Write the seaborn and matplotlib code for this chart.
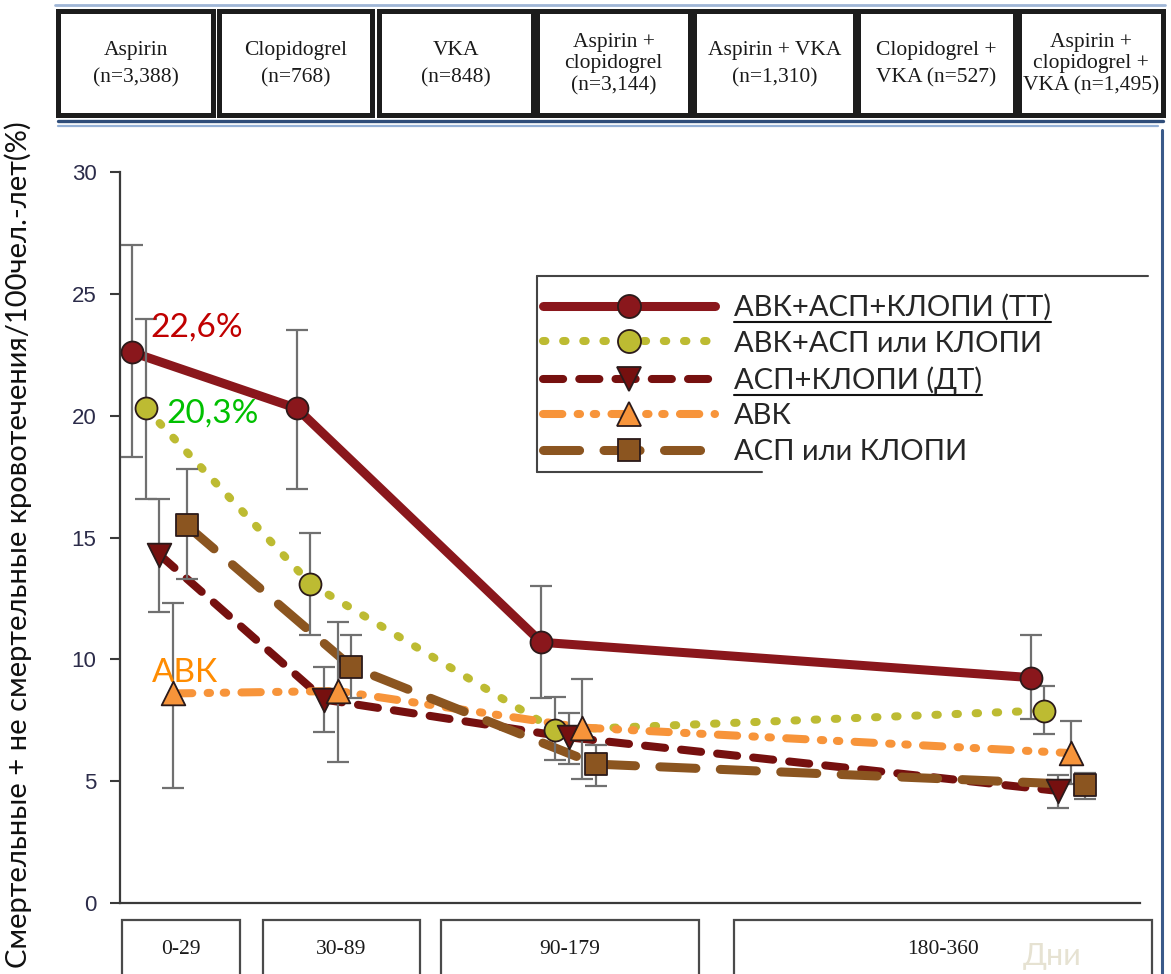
import matplotlib
matplotlib.use('Agg')
import numpy as np
import pandas as pd
import matplotlib.pyplot as plt
from matplotlib.lines import Line2D
from matplotlib.patches import Rectangle
import seaborn as sns

W, H = 1171, 974

# --- values ---
periods = ['0-29', '30-89', '90-179', '180-360']
period_pos = [13.9, 72.0, 158.3, 331.0]   # position of each period on the day axis
dodge_step = 4.8

groups = ['АВК+АСП+КЛОПИ (ТТ)', 'АВК+АСП или КЛОПИ', 'АСП+КЛОПИ (ДТ)',
          'АВК', 'АСП или КЛОПИ']

tt_rate = [22.6, 20.3, 10.7, 9.25]
tt_lo = [18.3, 17.0, 8.4, 7.55]
tt_hi = [27.0, 23.5, 13.0, 11.0]

avk_or_rate = [20.3, 13.1, 7.1, 7.9]
avk_or_lo = [16.6, 11.0, 5.85, 6.95]
avk_or_hi = [23.95, 15.2, 8.45, 8.9]

dt_rate = [14.3, 8.35, 6.8, 4.6]
dt_lo = [11.95, 7.0, 5.7, 3.9]
dt_hi = [16.6, 9.7, 7.8, 5.25]

avk_rate = [8.6, 8.7, 7.2, 6.15]
avk_lo = [4.7, 5.8, 5.1, 4.9]
avk_hi = [12.3, 11.55, 9.2, 7.45]

mono_rate = [15.5, 9.7, 5.7, 4.85]
mono_lo = [13.3, 8.4, 4.8, 4.25]
mono_hi = [17.8, 11.0, 6.5, 5.35]

header_labels = ['Aspirin\n(n=3,388)', 'Clopidogrel\n(n=768)', 'VKA\n(n=848)',
                 'Aspirin +\nclopidogrel\n(n=3,144)', 'Aspirin + VKA\n(n=1,310)',
                 'Clopidogrel +\nVKA (n=527)', 'Aspirin +\nclopidogrel +\nVKA (n=1,495)']

y_ticks = [0, 5, 10, 15, 20, 25, 30]

rates = [tt_rate, avk_or_rate, dt_rate, avk_rate, mono_rate]
lows = [tt_lo, avk_or_lo, dt_lo, avk_lo, mono_lo]
highs = [tt_hi, avk_or_hi, dt_hi, avk_hi, mono_hi]

rows = []
for gi, g in enumerate(groups):
    for pi, p in enumerate(periods):
        rows.append({'group': g, 'period': p,
                     'pos': period_pos[pi] + (gi - 2) * dodge_step,
                     'rate': rates[gi][pi], 'lo': lows[gi][pi], 'hi': highs[gi][pi]})
df = pd.DataFrame(rows)

styles = {
    groups[0]: dict(color='#8a171c', lw=6.5, ls='-', marker='o', s=250),
    groups[1]: dict(color='#bdbb32', lw=5.8, ls=(0, (0.3, 2.2)), marker='o', s=250),
    groups[2]: dict(color='#76100f', lw=5.8, ls=(0, (2.5, 2.0)), marker='v', s=290),
    groups[3]: dict(color='#f7943a', lw=5.8, ls=(0, (2.4, 1.9, 0.3, 1.7, 0.3, 1.9)), marker='^', s=290),
    groups[4]: dict(color='#8b5520', lw=6.5, ls=(0, (4.0, 2.7)), marker='s', s=240),
}


def fxy(x, y):
    """pixel position -> figure fraction"""
    return x / W, 1 - y / H


sns.set_style('ticks')
plt.rcParams['font.family'] = ['Lato', 'Noto Sans', 'DejaVu Sans']

fig = plt.figure(figsize=(W / 100, H / 100), dpi=100)
ax = fig.add_axes([120 / W, 1 - 903 / H, (1140 - 120) / W, (903 - 172) / H])

for g in groups:
    st = styles[g]
    sub = df[df['group'] == g]
    sns.lineplot(data=sub, x='pos', y='rate', color=st['color'], linewidth=st['lw'],
                 sort=False, errorbar=None, legend=False, ax=ax, zorder=2)
    line = ax.lines[-1]
    line.set_linestyle(st['ls'])
    line.set_dash_capstyle('round')
    line.set_solid_capstyle('round')

for g in groups:
    sub = df[df['group'] == g]
    ax.errorbar(sub['pos'], sub['rate'], yerr=[sub['rate'] - sub['lo'], sub['hi'] - sub['rate']],
                fmt='none', ecolor='#707070', elinewidth=1.6, capsize=8, capthick=1.6, zorder=3)

for g in groups:
    st = styles[g]
    sub = df[df['group'] == g]
    sns.scatterplot(data=sub, x='pos', y='rate', marker=st['marker'], s=st['s'],
                    color=st['color'], edgecolor='#2b1a1a', linewidth=1.3,
                    legend=False, ax=ax, zorder=4)

ax.set_xlim(0, 360)
ax.set_ylim(0, 30)
ax.set_yticks(y_ticks)
ax.set_xticks([])
ax.set_xlabel('')
ax.set_ylabel('')
sns.despine(ax=ax)
for sp in ['left', 'bottom']:
    ax.spines[sp].set_linewidth(1.6)
    ax.spines[sp].set_color('#3a3a3a')
ax.tick_params(axis='y', length=7, width=1.5, color='#3a3a3a', pad=10,
               labelsize=16, labelcolor='#2c2c4a')
for lab in ax.get_yticklabels():
    lab.set_family(['Liberation Sans', 'DejaVu Sans'])

# value callouts
tt0 = df[(df['group'] == groups[0]) & (df['period'] == periods[0])].iloc[0]
yo0 = df[(df['group'] == groups[1]) & (df['period'] == periods[0])].iloc[0]
av0 = df[(df['group'] == groups[3]) & (df['period'] == periods[0])].iloc[0]
ax.annotate('22,6%', (tt0['pos'], tt0['rate']), xytext=(13, 18), textcoords='offset points',
            color='#c00000', fontsize=24, va='center', ha='left')
ax.annotate('20,3%', (yo0['pos'], yo0['rate']), xytext=(15, -4), textcoords='offset points',
            color='#00c000', fontsize=24, va='center', ha='left')
ax.annotate('АВК', (av0['pos'], av0['rate']), xytext=(-15, 15), textcoords='offset points',
            color='#ff8c00', fontsize=24, va='center', ha='left')

# legend
handles = []
for g in groups:
    st = styles[g]
    handles.append(Line2D([], [], color=st['color'], lw=st['lw'], linestyle=st['ls'],
                          dash_capstyle='round', solid_capstyle='round',
                          marker=st['marker'], markersize=np.sqrt(st['s']) * 1.05,
                          markerfacecolor=st['color'], markeredgecolor='#2b1a1a',
                          markeredgewidth=1.3))
leg = fig.legend(handles, groups, loc='upper left', bbox_to_anchor=fxy(543, 294),
                 frameon=False, fontsize=21, handlelength=5.9, handletextpad=0.65,
                 labelspacing=0.33, borderpad=0, borderaxespad=0)

# legend box edges as they show in the picture
for (x0, y0), (x1, y1) in [((537, 276), (1148, 276)), ((537, 276), (537, 472)),
                           ((537, 472), (762, 472))]:
    a, b = fxy(x0, y0)
    c, d = fxy(x1, y1)
    fig.add_artist(Line2D([a, c], [b, d], color='#444444', lw=1.5))

# y label
fig.text(*fxy(18, 545), 'Смертельные + не смертельные кровотечения/100чел.-лет(%)',
         rotation=90, ha='center', va='center', fontsize=21, color='#111111')

# header boxes with group sizes
header_x = [(58, 213), (219, 372), (379, 533), (537, 690), (694, 855), (858, 1015), (1019, 1163)]
for (x0, x1), lab in zip(header_x, header_labels):
    bx, by = fxy(x0, 115)
    fig.add_artist(Rectangle((bx, by), (x1 - x0) / W, (115 - 11) / H, transform=fig.transFigure,
                             facecolor='white', edgecolor='#1c1c1c', lw=3.6))
    nl = lab.count('\n') + 1
    fig.text(*fxy((x0 + x1) / 2, 64), lab, ha='center', va='center', fontsize=15.5,
             family=['Liberation Serif', 'DejaVu Serif'],
             linespacing=1.6 if nl == 2 else 1.2, color='#1a1a1a')

# decorative frame lines of the pasted image
for (x0, y0), (x1, y1), col, lw in [((55, 5), (1165, 5), '#9fb6d6', 2.0),
                                    ((58, 121), (1163, 121), '#2f4d7a', 2.4),
                                    ((58, 126), (1158, 126), '#94b0d6', 1.6),
                                    ((1162, 130), (1162, 974), '#3a5a8a', 2.2)]:
    a, b = fxy(x0, y0)
    c, d = fxy(x1, y1)
    fig.add_artist(Line2D([a, c], [b, d], color=col, lw=lw))

# period boxes under the axis
period_x = [(122, 240), (263, 420), (441, 699), (734, 1152)]
for (x0, x1), lab in zip(period_x, periods):
    bx, by = fxy(x0, 990)
    fig.add_artist(Rectangle((bx, by), (x1 - x0) / W, (990 - 920) / H, transform=fig.transFigure,
                             facecolor='white', edgecolor='#4a4a4a', lw=1.6, clip_on=False))
    fig.text(*fxy((x0 + x1) / 2, 950), lab, ha='center', va='center', fontsize=15.5,
             family=['Liberation Serif', 'DejaVu Serif'], color='#1a1a1a')

fig.text(*fxy(1052, 956), 'Дни', ha='center', va='center', fontsize=22, color='#e6e2d2')

# underline two legend entries
fig.canvas.draw()
renderer = fig.canvas.get_renderer()
for i in (0, 2):
    bb = leg.get_texts()[i].get_window_extent(renderer)
    y = bb.y0 - 1
    fig.add_artist(Line2D([bb.x0 / W, bb.x1 / W], [y / H, y / H], color='#111111', lw=1.5))

fig.savefig('out.png', dpi=100)
